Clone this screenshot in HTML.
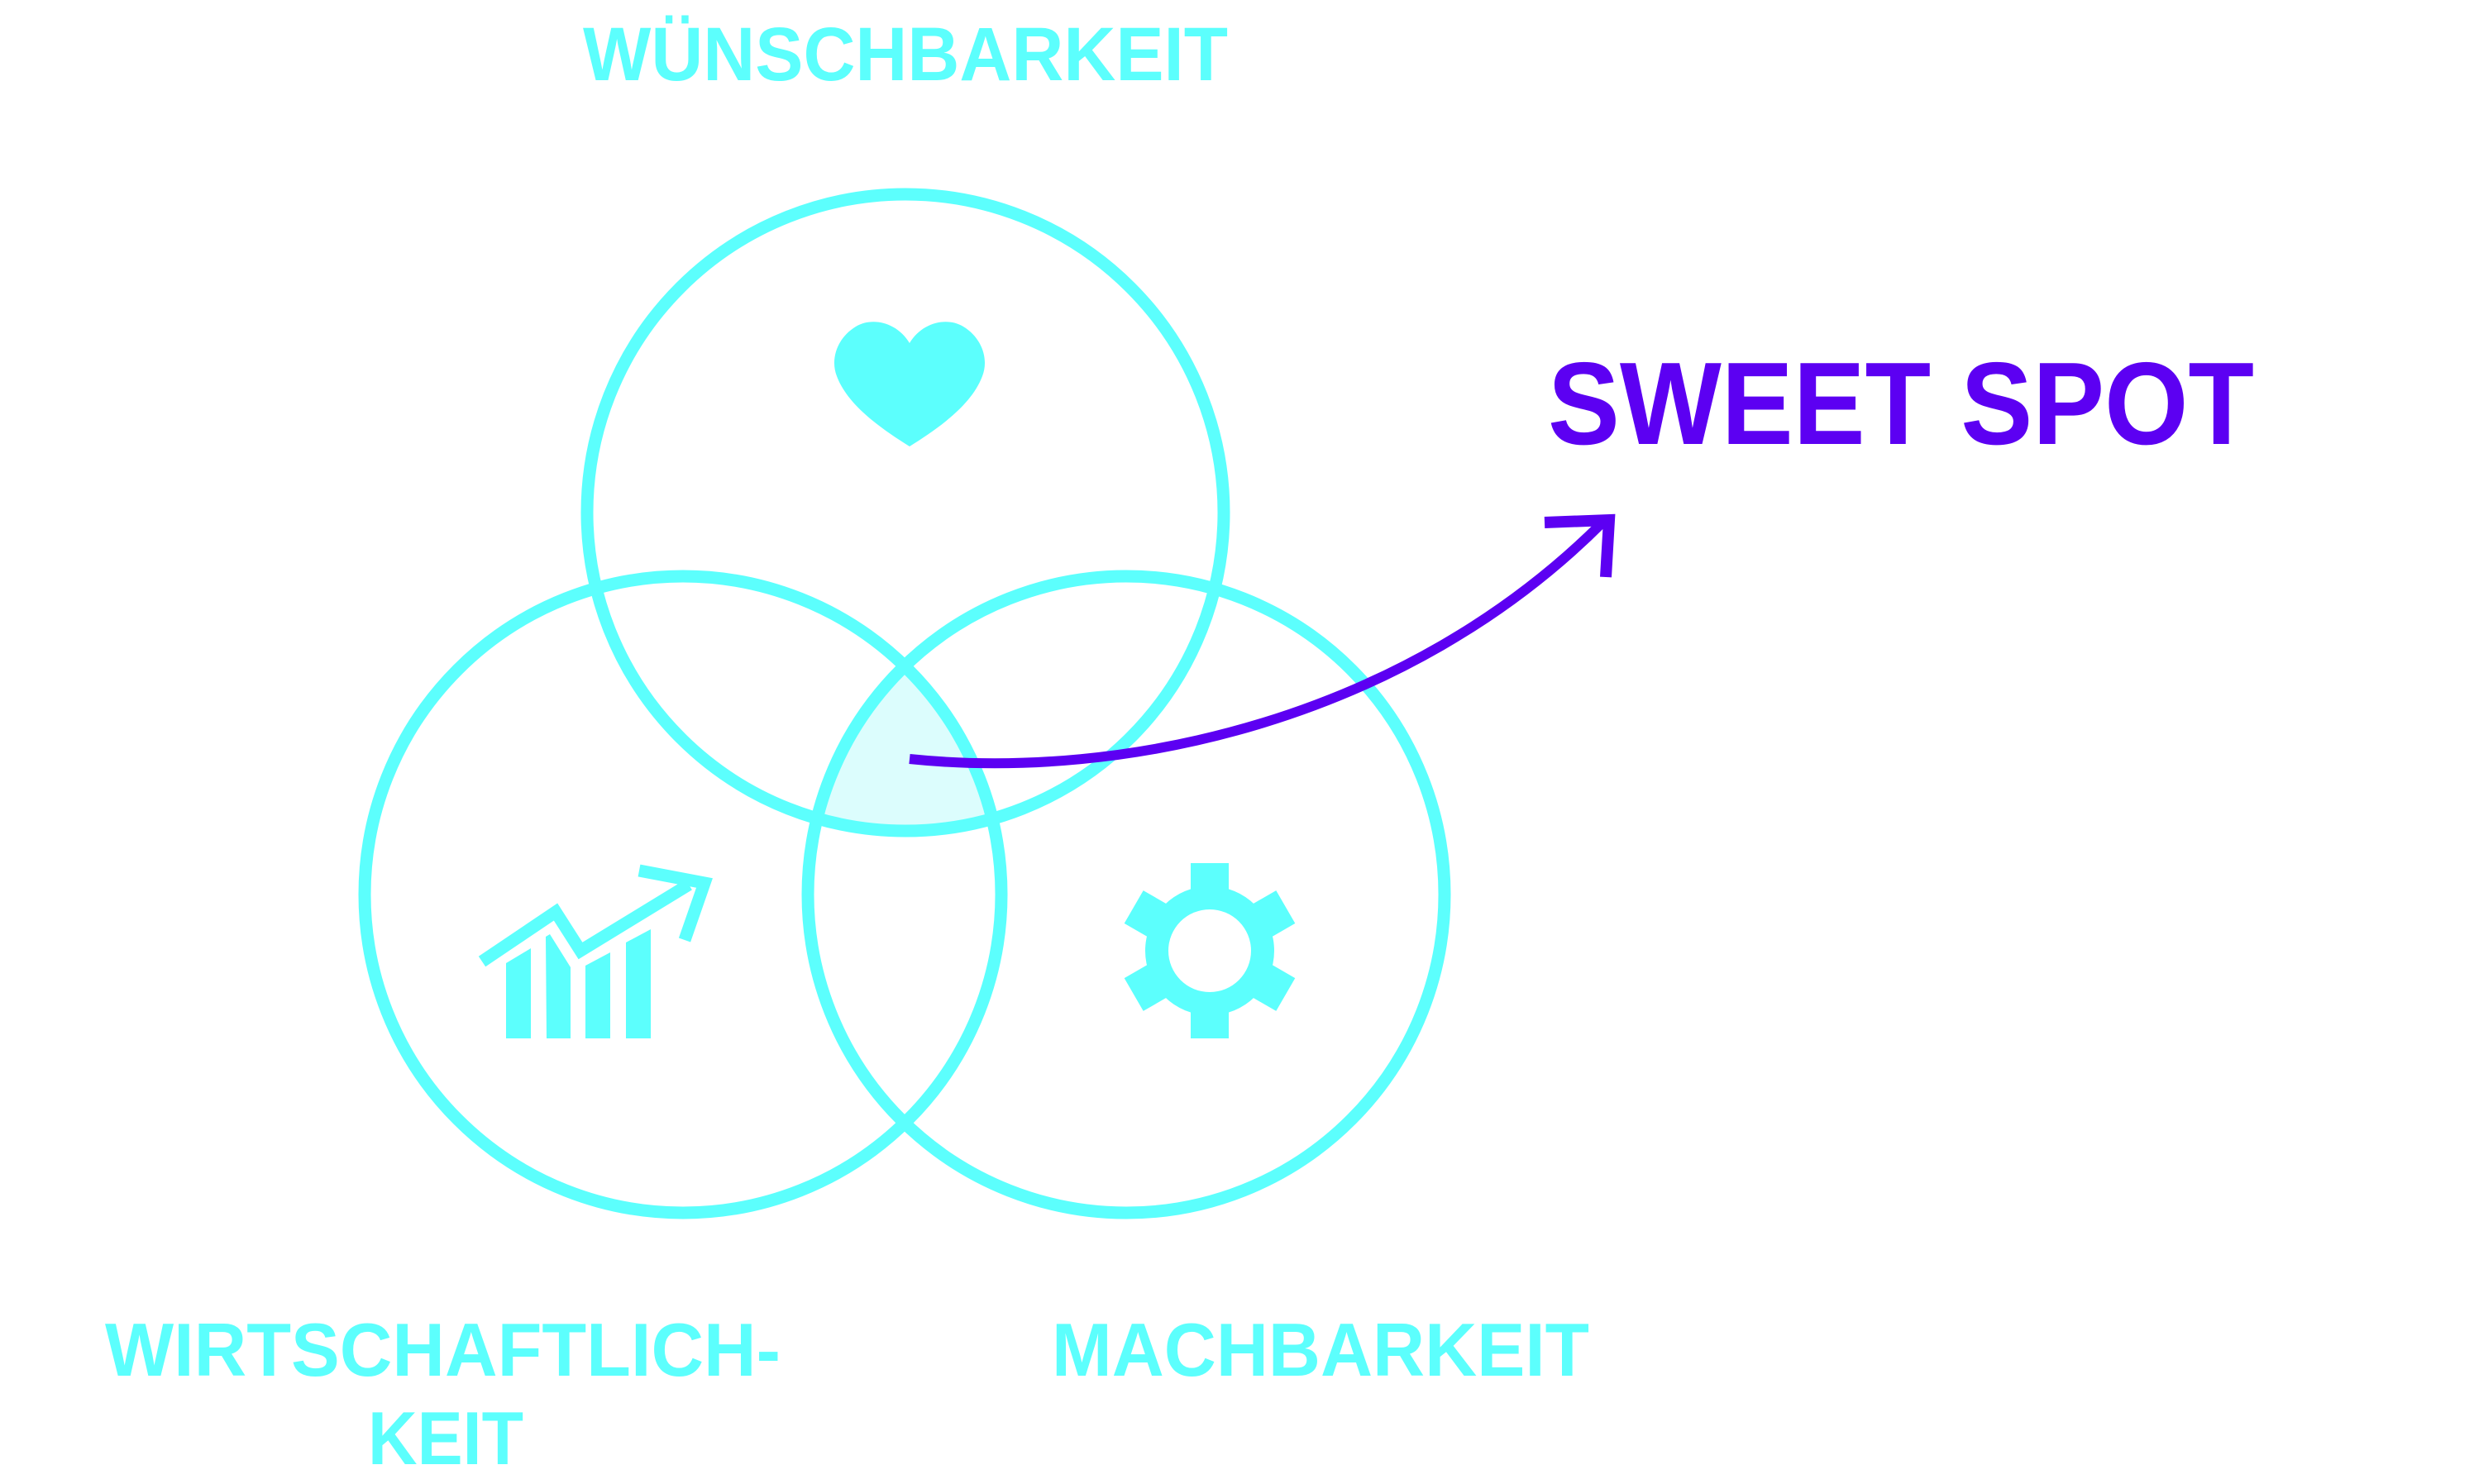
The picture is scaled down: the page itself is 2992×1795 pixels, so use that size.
<!DOCTYPE html>
<html><head><meta charset="utf-8"><style>
html,body{margin:0;padding:0;background:#fff;}
svg{display:block;}
text{font-family:"Liberation Sans",sans-serif;font-weight:bold;}
</style></head><body>
<svg width="2992" height="1795" viewBox="0 0 2992 1795" xmlns="http://www.w3.org/2000/svg">
<defs>
<clipPath id="cA"><circle cx="1095" cy="620" r="385"/></clipPath>
<clipPath id="cB"><circle cx="826" cy="1082" r="385"/></clipPath>
</defs>
<g clip-path="url(#cA)"><g clip-path="url(#cB)"><circle cx="1362" cy="1082" r="385" fill="#dcfdfd"/></g></g>
<g fill="none" stroke="#5cfffd" stroke-width="15">
<circle cx="1095" cy="620" r="385"/>
<circle cx="826" cy="1082" r="385"/>
<circle cx="1362" cy="1082" r="385"/>
</g>
<!-- heart -->
<path d="M1100 415 C1085 390,1055 383,1035 395 C1012 409,1004 435,1012 455 C1025 490,1065 518,1100 540 C1135 518,1175 490,1188 455 C1196 435,1188 409,1165 395 C1145 383,1115 390,1100 415Z" fill="#5cfffd"/>
<!-- chart -->
<g fill="#5cfffd">
<polygon points="612,1165 642,1147 642,1256 612,1256"/>
<polygon points="660,1133 665,1130 690,1170 690,1256 661,1256"/>
<polygon points="708,1168 738,1152 738,1256 708,1256"/>
<polygon points="757,1140 787,1124 787,1256 757,1256"/>
</g>
<g fill="none" stroke="#5cfffd" stroke-width="15" stroke-linejoin="miter">
<polyline points="583,1163 672,1103 702,1150 833,1070"/>
<polyline points="773,1053 852,1068 828,1137"/>
</g>
<!-- gear -->
<g fill="#5cfffd" transform="translate(1463,1150)">
<circle r="78"/>
<rect x="-23" y="-106" width="46" height="60"/>
<rect x="-23" y="-106" width="46" height="60" transform="rotate(60)"/>
<rect x="-23" y="-106" width="46" height="60" transform="rotate(120)"/>
<rect x="-23" y="-106" width="46" height="60" transform="rotate(180)"/>
<rect x="-23" y="-106" width="46" height="60" transform="rotate(240)"/>
<rect x="-23" y="-106" width="46" height="60" transform="rotate(300)"/>
<circle r="50" fill="#fff"/>
</g>
<!-- arrow -->
<g fill="none" stroke="#5c00f2" stroke-width="12">
<path d="M1100 918 C1360 945,1700 870,1938 632"/>
<polyline points="1868,632 1946,629 1942,698" stroke-width="14"/>
</g>
<!-- labels -->
<text x="705" y="97" font-size="92" fill="#5cfffd" textLength="780" lengthAdjust="spacingAndGlyphs">WÜNSCHBARKEIT</text>
<text x="1872" y="537" font-size="142" fill="#5c00f2" textLength="854" lengthAdjust="spacingAndGlyphs">SWEET SPOT</text>
<text x="127" y="1664" font-size="91" fill="#5cfffd" textLength="817" lengthAdjust="spacingAndGlyphs">WIRTSCHAFTLICH-</text>
<text x="445" y="1771" font-size="91" fill="#5cfffd" textLength="188" lengthAdjust="spacingAndGlyphs">KEIT</text>
<text x="1272" y="1664" font-size="91" fill="#5cfffd" textLength="650" lengthAdjust="spacingAndGlyphs">MACHBARKEIT</text>
</svg>
</body></html>
